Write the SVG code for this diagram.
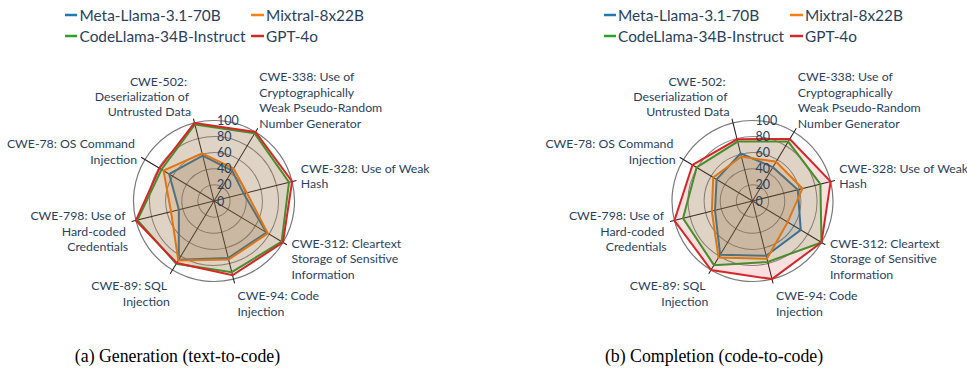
<svg xmlns="http://www.w3.org/2000/svg" width="967" height="384" viewBox="0 0 967 384">
<style>
  text { font-family: Lato, "Liberation Sans", sans-serif; fill: #2a3f5f; }
  .lbl { font-size: 12.3px; }
  .end { text-anchor: end; }
  .tick { font-size: 12.5px; }
  .leg { font-size: 15.4px; }
  .cap { font-family: "Liberation Serif", "Times New Roman", serif; font-size: 17.8px; fill: #000; text-anchor: middle; }
  .ring { fill: none; stroke: #8a8a8a; stroke-width: 1; }
  .outer { fill: none; stroke: #7a7a7a; stroke-width: 1.2; }
  .spoke { stroke: #1e1e1e; stroke-width: 1; }
  .tr { stroke-width: 2; stroke-linejoin: miter; fill-opacity: 0.15; }
  .blue { stroke: #1f77b4; fill: #1f77b4; }
  .orange { stroke: #ff7f0e; fill: #ff7f0e; }
  .green { stroke: #2ca02c; fill: #2ca02c; }
  .red { stroke: #d62728; fill: #d62728; }
  .legline { stroke-width: 2.5; fill: none; }
</style>
<defs>
  <g id="grid">
    <circle class="ring" r="16.1"/>
    <circle class="ring" r="32.2"/>
    <circle class="ring" r="48.3"/>
    <circle class="ring" r="64.4"/>
    <circle class="outer" r="80.5"/>
    <g class="spoke">
      <line x1="0" y1="0" x2="0" y2="-85"/>
      <line x1="0" y1="0" x2="60.1" y2="-60.1"/>
      <line x1="0" y1="0" x2="85" y2="0"/>
      <line x1="0" y1="0" x2="60.1" y2="60.1"/>
      <line x1="0" y1="0" x2="0" y2="85"/>
      <line x1="0" y1="0" x2="-60.1" y2="60.1"/>
      <line x1="0" y1="0" x2="-85" y2="0"/>
      <line x1="0" y1="0" x2="-60.1" y2="-60.1"/>
    </g>
  </g>
  <g id="ticks" class="tick">
    <text x="3" y="-76">100</text>
    <text x="3" y="-59.9">80</text>
    <text x="3" y="-43.8">60</text>
    <text x="3" y="-27.7">40</text>
    <text x="3" y="-11.6">20</text>
    <text x="3" y="4.5">0</text>
  </g>
</defs>

<!-- Left chart: Generation -->
<g id="chart-a">
  <g id="legend-a">
    <line class="legline blue" x1="65" y1="15" x2="77" y2="15"/>
    <text class="leg" x="79.5" y="20.5">Meta-Llama-3.1-70B</text>
    <line class="legline orange" x1="251" y1="15" x2="264" y2="15"/>
    <text class="leg" x="266" y="20.5">Mixtral-8x22B</text>
    <line class="legline green" x1="65" y1="36" x2="77" y2="36"/>
    <text class="leg" x="79.5" y="41.5">CodeLlama-34B-Instruct</text>
    <line class="legline red" x1="251" y1="36" x2="264" y2="36"/>
    <text class="leg" x="266" y="41.5">GPT-4o</text>
  </g>
  <g id="polar-a" transform="translate(214 201) rotate(-14)">
    <use href="#grid"/>
    <polygon id="a-llama" class="tr blue" points="0,-46.7 25,-25 30.6,0 43.3,43.3 0,58.8 -48.4,48.4 -36.2,0 -37,-37"/>
    <polygon id="a-mixtral" class="tr orange" points="0,-49.1 26.8,-26.8 33.8,0 44.4,44.4 0,60.4 -49,49 -44.3,0 -41.6,-41.6"/>
    <polygon id="a-codellama" class="tr green" points="0,-78.9 55.8,-55.8 77.3,0 55.8,55.8 0,73.3 -51.8,51.8 -78.9,0 -43.3,-43.3"/>
    <polygon id="a-gpt4o" class="tr red" points="0,-80.5 56.9,-56.9 80.5,0 56.9,56.9 0,76.5 -51.2,51.2 -80.5,0 -45,-45"/>
  </g>
  <use href="#ticks" transform="translate(214 201)"/>
  <g id="labels-a" class="lbl">
    <text class="end" x="187" y="85.5">CWE-502:</text>
    <text class="end" x="189" y="100.8">Deserialization of</text>
    <text class="end" x="191" y="116.2">Untrusted Data</text>
    <text x="259.3" y="81.3">CWE-338: Use of</text>
    <text x="259.3" y="96.8">Cryptographically</text>
    <text x="259.3" y="112.3">Weak Pseudo-Random</text>
    <text x="259.3" y="127.8">Number Generator</text>
    <text x="300.8" y="172.8">CWE-328: Use of Weak</text>
    <text x="300.8" y="188.3">Hash</text>
    <text x="291.5" y="247.5">CWE-312: Cleartext</text>
    <text x="291.5" y="263">Storage of Sensitive</text>
    <text x="291.5" y="278.5">Information</text>
    <text x="237.5" y="300">CWE-94: Code</text>
    <text x="237.5" y="315.5">Injection</text>
    <text class="end" x="167.2" y="290">CWE-89: SQL</text>
    <text class="end" x="169.8" y="305.5">Injection</text>
    <text class="end" x="125.5" y="220">CWE-798: Use of</text>
    <text class="end" x="125.8" y="235.5">Hard-coded</text>
    <text class="end" x="128.2" y="251">Credentials</text>
    <text class="end" x="134.8" y="148.3">CWE-78: OS Command</text>
    <text class="end" x="137.2" y="163.8">Injection</text>
  </g>
  <text class="cap" x="177.5" y="362">(a) Generation (text-to-code)</text>
</g>

<!-- Right chart: Completion -->
<g id="chart-b">
  <g id="legend-b">
    <line class="legline blue" x1="604" y1="15" x2="616" y2="15"/>
    <text class="leg" x="618" y="20.5">Meta-Llama-3.1-70B</text>
    <line class="legline orange" x1="790" y1="15" x2="803" y2="15"/>
    <text class="leg" x="805" y="20.5">Mixtral-8x22B</text>
    <line class="legline green" x1="604" y1="36" x2="616" y2="36"/>
    <text class="leg" x="618" y="41.5">CodeLlama-34B-Instruct</text>
    <line class="legline red" x1="790" y1="36" x2="803" y2="36"/>
    <text class="leg" x="805" y="41.5">GPT-4o</text>
  </g>
  <g id="polar-b" transform="translate(752.5 201) rotate(-14)">
    <use href="#grid"/>
    <polygon id="b-llama" class="tr blue" points="0,-49.1 27.9,-27.9 46.7,0 39.8,39.8 0,56.4 -44.4,44.4 -38.6,0 -29.6,-29.6"/>
    <polygon id="b-mixtral" class="tr orange" points="0,-45.9 32.4,-32.4 51.5,0 29,29 0,59.6 -46.7,46.7 -41.9,0 -32.4,-32.4"/>
    <polygon id="b-codellama" class="tr green" points="0,-61.2 49,-49 70,0 56.9,56.9 0,62.8 -52.9,52.9 -71.6,0 -46.1,-46.1"/>
    <polygon id="b-gpt4o" class="tr red" points="0,-63.6 51.2,-51.2 80.5,0 56.9,56.9 0,80.5 -56.9,56.9 -80.5,0 -49.5,-49.5"/>
  </g>
  <use href="#ticks" transform="translate(752.5 201)"/>
  <g id="labels-b" class="lbl">
    <text class="end" x="725.5" y="85.5">CWE-502:</text>
    <text class="end" x="727.5" y="100.8">Deserialization of</text>
    <text class="end" x="729.5" y="116.2">Untrusted Data</text>
    <text x="797.8" y="81.3">CWE-338: Use of</text>
    <text x="797.8" y="96.8">Cryptographically</text>
    <text x="797.8" y="112.3">Weak Pseudo-Random</text>
    <text x="797.8" y="127.8">Number Generator</text>
    <text x="839.3" y="172.8">CWE-328: Use of Weak</text>
    <text x="839.3" y="188.3">Hash</text>
    <text x="830" y="247.5">CWE-312: Cleartext</text>
    <text x="830" y="263">Storage of Sensitive</text>
    <text x="830" y="278.5">Information</text>
    <text x="776" y="300">CWE-94: Code</text>
    <text x="776" y="315.5">Injection</text>
    <text class="end" x="705.7" y="290">CWE-89: SQL</text>
    <text class="end" x="708.3" y="305.5">Injection</text>
    <text class="end" x="664" y="220">CWE-798: Use of</text>
    <text class="end" x="664.3" y="235.5">Hard-coded</text>
    <text class="end" x="666.7" y="251">Credentials</text>
    <text class="end" x="673.3" y="148.3">CWE-78: OS Command</text>
    <text class="end" x="675.7" y="163.8">Injection</text>
  </g>
  <text class="cap" x="714" y="362">(b) Completion (code-to-code)</text>
</g>
</svg>
